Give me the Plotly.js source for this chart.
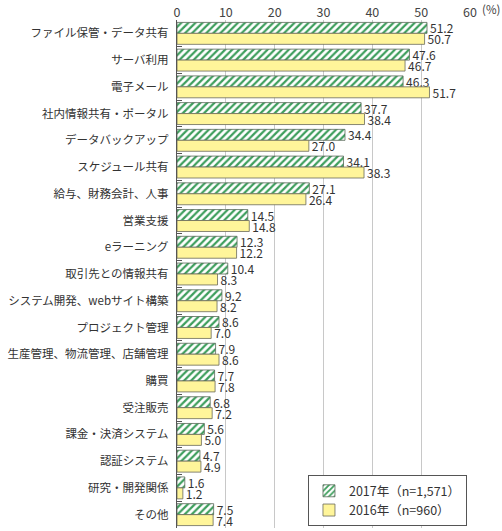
<!DOCTYPE html>
<html><head><meta charset="utf-8">
<script src="https://cdn.plot.ly/plotly-3.0.1.min.js"></script>
<style>body{margin:0;background:#fff}#c{width:502px;height:531px}</style>
</head><body><div id="c"></div>
<script>
const categories = ["ファイル保管・データ共有","サーバ利用","電子メール","社内情報共有・ポータル","データバックアップ","スケジュール共有","給与、財務会計、人事","営業支援","eラーニング","取引先との情報共有","システム開発、webサイト構築","プロジェクト管理","生産管理、物流管理、店舗管理","購買","受注販売","課金・決済システム","認証システム","研究・開発関係","その他"];
const values2017 = [51.2,47.6,46.3,37.7,34.4,34.1,27.1,14.5,12.3,10.4,9.2,8.6,7.9,7.7,6.8,5.6,4.7,1.6,7.5];
const values2016 = [50.7,46.7,51.7,38.4,27.0,38.3,26.4,14.8,12.2,8.3,8.2,7.0,8.6,7.8,7.2,5.0,4.9,1.2,7.4];
const seriesNames = ["2017年（n=1,571）","2016年（n=960）"];

const font = "'Noto Sans CJK JP', 'Noto Sans', sans-serif";
const traces = [
  {type:'bar', orientation:'h', name:seriesNames[0], y:categories, x:values2017,
   marker:{color:'#ffffff', line:{color:'#5a6a5a', width:0.8},
     pattern:{shape:'/', fgcolor:'#3d9e5c', bgcolor:'#ffffff', size:5, solidity:0.45}},
   texttemplate:'%{x:.1f}', textposition:'outside', cliponaxis:false, constraintext:'none',
   textfont:{size:12, color:'#333', family:font}},
  {type:'bar', orientation:'h', name:seriesNames[1], y:categories, x:values2016,
   marker:{color:'#fff59a', line:{color:'#6a6a5a', width:0.8}},
   texttemplate:'%{x:.1f}', textposition:'outside', cliponaxis:false, constraintext:'none',
   textfont:{size:12, color:'#333', family:font}}
];
const layout = {
  width:502, height:531,
  margin:{l:177, r:32, t:20, b:3},
  paper_bgcolor:'#fff', plot_bgcolor:'#fff',
  font:{family:font, size:12, color:'#333'},
  barmode:'group', bargap:0.18, bargroupgap:0,
  showlegend:true,
  legend:{x:0.447, y:0.104, xanchor:'left', yanchor:'top', bgcolor:'#fff',
    bordercolor:'#555', borderwidth:1, font:{size:12.5, color:'#333'}, traceorder:'normal',
    itemwidth:30},
  xaxis:{side:'top', range:[0,60], dtick:10, showgrid:true, gridcolor:'#c8c8c8',
    zeroline:false, showline:false, ticks:'', tickfont:{size:12.5, color:'#444'}, fixedrange:true},
  yaxis:{autorange:'reversed', type:'category', showline:true, linecolor:'#555', linewidth:1,
    ticks:'inside', tickson:'boundaries', ticklen:5, tickcolor:'#555',
    tickfont:{size:11.5, color:'#333'}, ticksuffix:'  '},
  annotations:[{xref:'paper', yref:'paper', x:1, y:1, xanchor:'left', yanchor:'bottom',
    xshift:10, yshift:1, text:'(%)', showarrow:false, font:{size:11.5, color:'#444'}}]
};
Plotly.newPlot('c', traces, layout, {displayModeBar:false, staticPlot:true});
</script></body></html>
